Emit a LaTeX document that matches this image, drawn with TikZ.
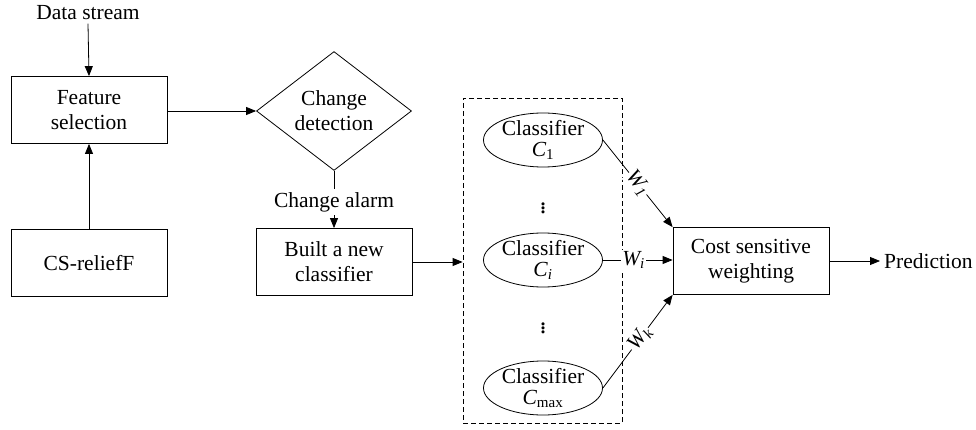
\documentclass[tikz,border=0pt]{standalone}
\usepackage{fontspec}
\setmainfont{Liberation Serif}
\usetikzlibrary{shapes.geometric,arrows.meta}
\begin{document}
\begin{tikzpicture}[x=1pt,y=-1pt,
  every node/.style={font=\fontsize{21.5}{25}\selectfont},
  box/.style={draw, line width=0.8pt, minimum width=156pt, minimum height=67pt, align=center, inner sep=0pt},
  dia/.style={draw, diamond, line width=0.8pt, minimum width=155pt, minimum height=100pt, align=center, inner sep=0pt},
  cls/.style={draw, ellipse, line width=0.8pt, minimum width=119pt, minimum height=54pt, inner sep=0pt},
  clstext/.style={align=center, inner sep=0pt, font=\fontsize{21.5}{21}\selectfont},
  frame/.style={draw, dashed, dash pattern=on 5pt off 3pt, line width=0.8pt, minimum width=159pt, minimum height=325pt, inner sep=0pt},
  dots/.style={inner sep=0pt, font=\fontsize{26}{26}\selectfont},
  arr/.style={-{Triangle[length=10pt,width=8pt]}, line width=0.8pt},
  ln/.style={line width=0.8pt},
  wlab/.style={fill=white, inner sep=1pt}
]
\useasboundingbox (0,0) rectangle (976,430);

\node (ds) at (88,13) {Data stream};
\node[box] (fs) at (89,110) {Feature\\selection};
\node[box] (cs) at (89,263) {CS-reliefF};
\node[dia] (cd) at (334,111) {Change\\detection};
\node (alarm) at (334,202) {Change alarm};
\node[box] (bn) at (334,262) {Built a new\\classifier};
\node[frame] (fr) at (542.5,260.5) {};
\node[cls] (c1) at (543,140) {};
\node[clstext] at (c1) {Classifier\\{\itshape C}\textsubscript{1}};
\node[dots] (d1) at (543,205) {$\vdots$};
\node[cls] (ci) at (543,260) {};
\node[clstext] at (ci) {Classifier\\{\itshape C}\textsubscript{\itshape i}};
\node[dots] (d2) at (543,325) {$\vdots$};
\node[cls] (cm) at (543,388) {};
\node[clstext] at (cm) {Classifier\\{\itshape C}\textsubscript{max}};
\node[box] (cw) at (751,261) {Cost sensitive\\weighting};
\coordinate (pe) at (880,261);
\node[anchor=west, inner sep=0pt] (pred) at (884,261) {Prediction};

\draw[arr] (ds.south) -- (fs.north);
\draw[arr] (cs.north) -- (fs.south);
\draw[arr] (fs.east |- cd.west) -- (cd.west);
\draw[ln] (cd.south) -- (alarm.north);
\draw[arr] (alarm.south) -- (bn.north);
\draw[arr] (bn.east) -- (bn.east -| fr.west);
\draw[arr] (c1.east) -- node[wlab, sloped, pos=0.5] {{\itshape W}\textsubscript{\itshape 1}} (cw.north west);
\draw[arr] (ci.east) -- node[wlab, pos=0.44] {{\itshape W}\textsubscript{\itshape i}} (ci.east -| cw.west);
\draw[arr] (cm.east) -- node[wlab, sloped, pos=0.53] {{\itshape W}\textsubscript{\itshape k}} (cw.south west);
\draw[arr] (cw.east) -- (pe);
\end{tikzpicture}
\end{document}
